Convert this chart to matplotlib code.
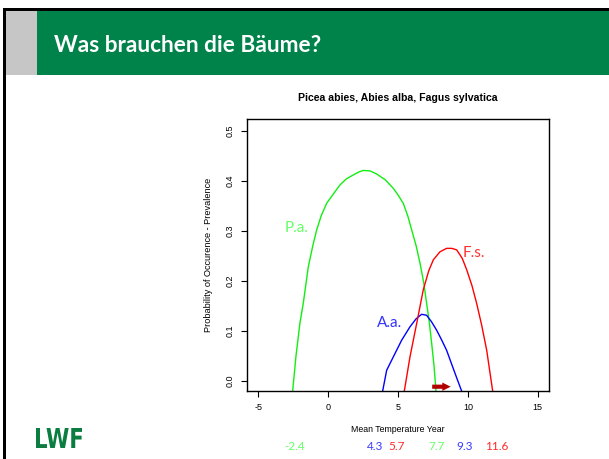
import numpy as np
import matplotlib
matplotlib.use('Agg')
import matplotlib.pyplot as plt
from matplotlib.patches import Rectangle, PathPatch
from matplotlib.textpath import TextPath
from matplotlib.font_manager import FontProperties
from matplotlib.transforms import Affine2D

# response curves (mean temperature, probability)
pa_temp = [-2.54, -2.3, -2.02, -1.78, -1.42, -1.1, -0.82, -0.5, -0.11, 0.4, 0.85, 1.3, 1.8, 2.2, 2.52,
           3.0, 3.47, 4.1, 4.67, 5.0, 5.38, 5.7, 5.98, 6.3, 6.58, 6.85, 7.05, 7.25, 7.41, 7.58, 7.72]
pa_prob = [-0.021, 0.05, 0.115, 0.155, 0.228, 0.27, 0.302, 0.33, 0.355, 0.375, 0.392, 0.404, 0.412, 0.418, 0.421,
           0.42, 0.414, 0.402, 0.385, 0.372, 0.355, 0.33, 0.302, 0.27, 0.235, 0.195, 0.155, 0.115, 0.075, 0.03, -0.021]

aa_temp = [3.90, 4.19, 4.67, 5.26, 5.86, 6.3, 6.69, 7.05, 7.4, 7.77, 8.1, 8.48, 9.08, 9.56]
aa_prob = [-0.021, 0.021, 0.048, 0.081, 0.108, 0.124, 0.133, 0.131, 0.118, 0.101, 0.083, 0.061, 0.015, -0.021]

fs_temp = [5.45, 5.86, 6.34, 6.81, 7.2, 7.53, 8.0, 8.48, 8.85, 9.20, 9.6, 9.92, 10.3, 10.63, 11.0, 11.35, 11.78]
fs_prob = [-0.021, 0.048, 0.115, 0.182, 0.22, 0.242, 0.258, 0.265, 0.265, 0.262, 0.245, 0.222, 0.19, 0.155, 0.11, 0.061, -0.021]

x_ticks = [-5, 0, 5, 10, 15]
y_ticks = [0.0, 0.1, 0.2, 0.3, 0.4, 0.5]

limits = ['-2.4', '4.3', '5.7', '7.7', '9.3', '11.6']
limit_colors = ['#66ff66', '#3a3aff', '#ff2a2a', '#66ff66', '#3a3aff', '#ff2a2a']
limit_xpos = [295, 375, 397, 437, 465, 497]

W, H = 609, 459
fig = plt.figure(figsize=(W / 100, H / 100), dpi=100)
plt.rcParams['font.family'] = 'Liberation Sans'

# slide background in pixel coords
bg = fig.add_axes([0, 0, 1, 1])
bg.set_xlim(0, W)
bg.set_ylim(H, 0)
bg.axis('off')
bg.add_patch(Rectangle((3, 8), W - 3, 2.7, color='black', lw=0))
bg.add_patch(Rectangle((3, 8), 2.5, H - 8, color='black', lw=0))
bg.add_patch(Rectangle((5.5, 10.7), 31.5, 64.3, color='#c6c6c6', lw=0))
bg.add_patch(Rectangle((37, 10.7), W - 37, 64.3, color='#00834a', lw=0))
bg.text(54, 45, 'Was brauchen die Bäume?', color='white', fontsize=16.3, fontweight='bold',
        family='Lato', va='center', ha='left')

# LWF logo, scaled into its box
tp = TextPath((0, 0), 'LWF', prop=FontProperties(family='DejaVu Sans', weight='heavy'))
ext = tp.get_extents()
x0, x1, y0, y1 = 36, 82, 428, 448
tr = (Affine2D().translate(-ext.x0, -ext.y0)
      .scale((x1 - x0) / ext.width, -(y1 - y0) / ext.height)
      .translate(x0, y1))
bg.add_patch(PathPatch(tr.transform_path(tp), color='#0b7d40', lw=0))

for val, col, xp in zip(limits, limit_colors, limit_xpos):
    bg.text(xp, 447, val, color=col, fontsize=8.5, family='Lato', ha='center', va='center')

# chart
ax = fig.add_axes([246.7 / W, 1 - 391 / H, (549 - 246.7) / W, (391 - 119.3) / H])
ax.plot(pa_temp, pa_prob, color='#11ee11', lw=1)
ax.plot(aa_temp, aa_prob, color='#0000ff', lw=1)
ax.plot(fs_temp, fs_prob, color='#ff0000', lw=1)
ax.set_xlim(-5.83, 15.81)
ax.set_ylim(-0.0206, 0.5234)
ax.set_xticks(x_ticks)
ax.set_yticks(y_ticks)
ax.set_xticklabels([str(t) for t in x_ticks])
ax.set_yticklabels([f'{t:.1f}' for t in y_ticks], rotation=90, va='center')
ax.tick_params(direction='out', length=4, width=0.8, labelsize=6.5, pad=5)
for s in ax.spines.values():
    s.set_linewidth(1)

ax.text(-2.25, 0.305, 'P.a.', color='#66ff66', fontsize=11, family='Lato', ha='center', va='center')
ax.text(4.43, 0.115, 'A.a.', color='#3333ff', fontsize=11, family='Lato', ha='center', va='center')
ax.text(10.4, 0.255, 'F.s.', color='#ff3333', fontsize=11, family='Lato', ha='center', va='center')

ax.annotate('', xy=(8.97, -0.012), xytext=(7.25, -0.012),
            arrowprops=dict(arrowstyle='simple,head_width=0.6,head_length=0.6,tail_width=0.3',
                            color='#b00000', lw=0))

ax.set_title('Picea abies, Abies alba, Fagus sylvatica', fontsize=7.6, fontweight='bold', pad=13)
ax.set_xlabel('Mean Temperature Year', fontsize=6.3, labelpad=9)
ax.set_ylabel('Probability of Occurence - Prevalence', fontsize=6.6, labelpad=9)

fig.savefig('out.png', dpi=100)
